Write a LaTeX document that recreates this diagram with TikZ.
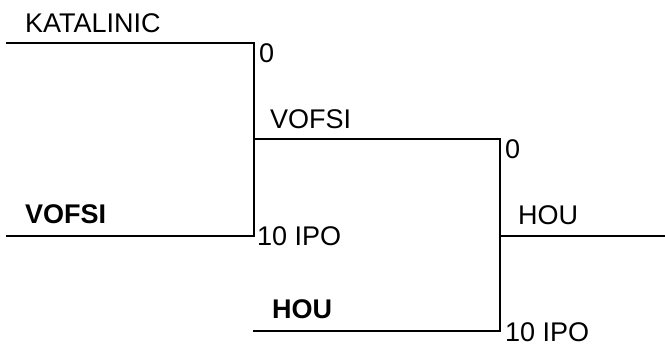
\documentclass[tikz,border=0pt]{standalone}
\usepackage{fontspec}
\setmainfont{Liberation Sans}
\begin{document}
\begin{tikzpicture}[x=1pt,y=-1pt,
  lbl/.style={inner sep=0pt,anchor=base west,font=\fontsize{27}{30}\selectfont},
  blbl/.style={lbl,font=\fontsize{27}{30}\selectfont\bfseries},
  br/.style={line width=2pt,line cap=rect},
  thin/.style={line width=1.5pt}]
\useasboundingbox (0,0) rectangle (665,346);
% junction coordinates
\coordinate (k0) at (7,43);
\coordinate (k1) at (254,43);
\coordinate (v0) at (7,236);
\coordinate (v1) at (254,236);
\coordinate (m0) at (254,139);
\coordinate (m1) at (500,139);
\coordinate (h0) at (254,331);
\coordinate (h1) at (500,331);
\coordinate (f0) at (500,236);
\coordinate (f1) at (665,236);
% lines
\draw[br] (k0) -- (k1) -- (v1) -- (v0);
\draw[br] (m0) -- (m1) -- (h1) -- (h0);
\draw[thin] (f0) -- (f1);
% labels
\node[lbl] (tk) at (25,32) {KATALINIC};
\node[lbl] (z1) at (259,62) {0};
\node[lbl] (tv) at (270,128) {VOFSI};
\node[blbl] (bv) at (25,223) {VOFSI};
\node[lbl] (i1) at (257,245) {10 IPO};
\node[blbl] (bh) at (272,318) {HOU};
\node[lbl] (z2) at (505,158) {0};
\node[lbl] (th) at (518,224) {HOU};
\node[lbl] (i2) at (505,341) {10 IPO};
\end{tikzpicture}
\end{document}
